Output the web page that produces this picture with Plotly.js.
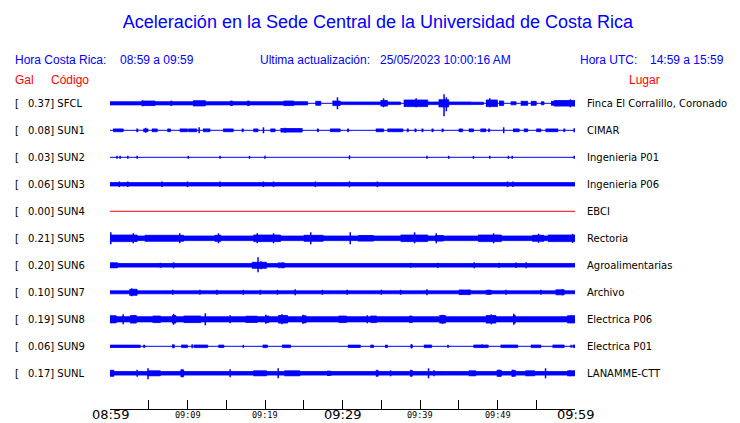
<!DOCTYPE html>
<html><head><meta charset="utf-8">
<script src="https://cdn.plot.ly/plotly-3.0.1.min.js"></script>
<style>html,body{margin:0;padding:0;background:#fff}#chart{width:740px;height:423px}</style>
</head><body><div id="chart"></div>
<script>
// ---- data ----
const codes = ['SFCL','SUN1','SUN2','SUN3','SUN4','SUN5','SUN6','SUN7','SUN8','SUN9','SUNL'];
const galValues = [0.37,0.08,0.03,0.06,0.00,0.21,0.20,0.10,0.19,0.06,0.17];
const places = ['Finca El Corralillo, Coronado','CIMAR','Ingenieria P01','Ingenieria P06','EBCI','Rectoria',
  'Agroalimentarias','Archivo','Electrica P06','Electrica P01','LANAMME-CTT'];
const tickMinutes = [0,5,10,15,20,25,30,35,40,45,50,55,60];
const tickLabels = ['08:59','','09:09','','09:19','','09:29','','09:39','','09:49','','09:59'];
const majorTickLabels = ['08:59','09:29','09:59'];

// envelope bands [startMin, endMin, halfAmplitude] and spikes [min, up, down]
const bandsSFCL = [[0,25.5,1.6],[4.1,5.8,2.3],[7.8,8.0,2.3],[10.7,12.3,2.6],[15.5,15.8,2.3],[17.7,18.0,2.3],
  [22.4,23.7,2.3],[26.5,27.2,2],[28.7,29.7,2.3],[29.7,34.9,1.3],[34.9,35.8,2.8],[35.8,37.5,1.3],[37.9,41.0,3.3],
  [41.0,46.6,1.3],[42.4,43.7,3.6],[46.6,48.2,1.1],[48.5,50.0,3.3],[50.2,50.8,2.3],[51.7,52.4,1.5],[53.0,53.9,2],
  [54.3,55.0,2],[55.6,56.0,1.5],[56.9,57.3,2],[57.3,60,2.8]];
const spikesSFCL = [[4.2,3,3],[29.35,6,6],[35.3,5,4],[39.5,5,4],[43.1,9,13],[43.4,6,8],[49.0,5,4],[59.4,4,4]];

const bandsSUN1 = [[0.4,1.7,1.4],[3.4,3.6,1.4],[4.3,4.9,1.4],[5.4,6.1,1.4],[7.4,7.8,1.4],[9.0,10.0,1.4],
  [10.1,11.2,1.4],[12.0,12.9,1.4],[14.6,15.9,1.4],[17.0,17.2,1.4],[18.5,19.1,1.4],[20.7,21.3,1.4],[22.0,24.8,1.8],
  [26.7,26.9,1.4],[28.4,29.7,1.4],[30.6,30.8,1.4],[34.3,35.3,1.4],[35.8,37.8,1.4],[38.3,38.5,1.4],[39.3,39.5,1.4],
  [40.2,40.4,1.4],[41.5,41.7,1.4],[42.8,43.0,1.4],[45.0,45.5,1.4],[46.3,46.9,1.4],[47.8,48.5,1.4],[48.8,49.0,1.4],
  [52.0,52.8,1.4],[53.4,53.9,1.4],[55.0,55.6,1.4],[56.2,57.8,1.4],[58.5,58.7,1.4]];
const spikesSUN1 = [[4.6,2.5,2.5],[11.5,3,3],[19.8,3,3],[22.6,2.5,2.5],[50.8,3,3],[59.9,2,2]];

const bandsSUN2 = [];
const spikesSUN2 = [[0.9,1.5,1.5],[1.3,1.5,1.5],[2.3,1.5,1.5],[3.5,1.5,1.5],[10.1,1.5,1.5],[14.2,1.5,1.5],
  [18.0,1.5,1.5],[20.0,1.5,1.5],[30.9,2,2],[40.9,1.5,1.5],[43.7,1.5,1.5],[46.9,1.5,1.5],[49.0,1.5,1.5],
  [51.4,1.5,1.5],[51.9,1.5,1.5],[59.9,1.5,1.5]];

const bandsSUN3 = [[0,60,1.7]];
const spikesSUN3 = [[1.2,2.8,2.8],[2.3,2.8,2.8],[6.7,2.8,2.8],[10.0,2.8,2.8],[14.2,2.8,2.8],[19.8,2.8,2.8],
  [21.1,2.8,2.8],[26.5,2.8,2.8],[30.9,3,3],[34.5,2.8,2.8],[51.3,2.8,2.8],[52.0,2.8,2.8]];

const bandsSUN4 = [];
const spikesSUN4 = [];

const bandsSUN5 = [[0,60,2.3],[0,3.5,3.3],[4.5,9.5,3.0],[13.5,14.3,3.0],[18.5,22.0,3.3],[25.0,27.5,3.0],
  [32.0,34.0,2.8],[37.5,41.0,3.3],[42,43,2.8],[47.5,50.5,3.3],[54.5,56.0,3.0],[56.5,60,3.3]];
const spikesSUN5 = [[0.1,6,6],[3.0,5,5],[9.0,5,5],[14.0,5,5],[19.0,5,5],[21.1,5,5],[25.9,6,6],[31.0,6,6],
  [39.3,6,5],[42.1,5,5],[49.5,5,5],[55.3,4.5,4.5],[59.7,4.5,4.5]];

const bandsSUN6 = [[0,60,1.8],[0,1.0,2.5],[18.3,20.2,3],[22,22.5,2.5]];
const spikesSUN6 = [[0.4,2.5,2.5],[6.5,2.5,2.5],[8.2,3,3],[19.1,8,7],[19.5,4,4],[21.8,3,3],[38.8,2.5,2.5],
  [42.3,2.5,2.5],[47.0,3,3],[50.2,2.5,2.5],[52.4,2.8,2.8],[53.7,3,3]];

const bandsSUN7 = [[0,60,1.5],[2.5,3.5,3],[45,46.5,2.3],[48.5,49.2,2],[57.5,58.6,2.5]];
const spikesSUN7 = [[2.8,4,4],[8.1,2.5,2.5],[11.6,2.5,2.5],[13.8,2.5,2.5],[17.2,2.5,2.5],[19.4,2.5,2.5],
  [21.6,2.5,2.5],[23.9,3,3],[27.4,2.5,2.5],[30.6,2.5,2.5],[35.0,2.5,2.5],[37.5,2.5,2.5],[40.9,3,3],
  [45.3,2.5,2.5],[46.3,2.5,2.5],[48.9,2.5,2.5],[51.1,2.5,2.5],[55.6,2.5,2.5],[58.4,3,3]];

const bandsSUN8 = [[0,60,2.6],[0,0.8,3.6],[2.6,3.4,3.8],[5.5,6.5,3.3],[8.0,8.5,3.8],[9.5,11.7,3.3],[17.5,19,3.1],
  [20.0,20.5,3.3],[21.7,22.9,3.8],[24.8,25.3,3.6],[29.5,30.5,3.3],[33.6,34.4,3.3],[38.6,39.0,3.3],[42.5,43.3,3.8],
  [48.5,49.8,3.8],[52.0,52.3,3.8],[59,60,3.6]];
const spikesSUN8 = [[1.7,5,5],[8.2,5.5,5.5],[12.3,6,6],[15.5,4,4],[20.1,4.5,4.5],[22.2,5,5],[24.9,4.5,4.5],
  [33.2,4,4],[42.9,4.5,4.5],[49.2,5,5],[52.1,5.5,5.5],[59.5,4,4]];

const bandsSUN9 = [[0,3.9,1.2],[4.3,4.5,1.2],[8.0,8.3,1.5],[9.2,10.0,1.3],[10.8,12.6,1.3],[14.0,14.7,1.2],
  [19.7,20.3,1.3],[22.2,23.3,1.3],[30.7,32.3,1.2],[33.6,34.0,1.2],[35.5,35.8,1.2],[38.8,39.0,1.5],[40.5,41.5,1.3],
  [43.5,43.7,1],[46.9,48.8,1.3],[50.4,52.6,1.3],[54.3,55.6,1.3],[57.1,58.6,1.3],[59.7,60,1.3]];
const spikesSUN9 = [[10.6,2,2],[17.2,1.5,1.5],[38.9,2,2],[48.0,1.8,1.8],[59.5,1.5,1.5]];

const bandsSUNL = [[0,60,1.8],[0,0.5,3],[4.8,6.5,2.5],[9.1,9.5,3.5],[18.5,20.2,2.5],[22.5,24.5,2.5],[28,28.5,2.2],
  [34.3,34.6,3],[38.7,39,3],[46.3,47.2,2.5],[49.9,50.5,3],[51.9,52.3,3],[53.6,54.8,2.5],[59,60,2.5]];
const spikesSUNL = [[0.3,3,3],[3.5,3.5,3.5],[4.9,5,6],[9.3,3.5,3.5],[15.5,4,4],[21.7,5,5],[36.2,3,3],[41.1,5,5],
  [41.8,3,3],[50.2,3.5,3.5],[51.9,3.5,3.5],[56.2,5,5],[59.4,3,3]];

const allBands = [bandsSFCL,bandsSUN1,bandsSUN2,bandsSUN3,bandsSUN4,bandsSUN5,bandsSUN6,bandsSUN7,bandsSUN8,bandsSUN9,bandsSUNL];
const allSpikes = [spikesSFCL,spikesSUN1,spikesSUN2,spikesSUN3,spikesSUN4,spikesSUN5,spikesSUN6,spikesSUN7,spikesSUN8,spikesSUN9,spikesSUNL];

// ---- layout constants (pixels) ----
const W = 740, H = 423;
const PL = 110, PR = 575, PT = 85, PB = 409;
const SPACING = 27;            // px between traces, 1 y-unit = 1 px
const FIRST = 103.3;           // px centre of first trace
const BLUE = '#0000ff', RED = '#ff0000';
const pw = PR - PL, ph = PB - PT;
const px2x = p => (p - PL) / pw;
const py2y = p => (PB - p) / ph;

const traces = [];
codes.forEach((code, i) => {
  const c = -SPACING * i;
  const col = (galValues[i] === 0) ? RED : BLUE;
  traces.push({x:[0,60], y:[c,c], mode:'lines', line:{color:col, width:1}, hoverinfo:'skip', showlegend:false});
  const bx = [], by = [];
  allBands[i].forEach(([t0,t1,a]) => { bx.push(t0,t1,t1,t0,null); by.push(c+a,c+a,c-a,c-a,null); });
  if (bx.length) traces.push({x:bx, y:by, mode:'lines', fill:'toself', fillcolor:col,
    line:{color:col, width:0.8}, hoverinfo:'skip', showlegend:false});
  const sx = [], sy = [];
  allSpikes[i].forEach(([t,u,d]) => { sx.push(t,t,null); sy.push(c+u,c-d,null); });
  if (sx.length) traces.push({x:sx, y:sy, mode:'lines', line:{color:col, width:1.5}, hoverinfo:'skip', showlegend:false});
});

const annotations = [];
const txt = (text, px, py, size, color, family, anchor) => annotations.push({
  text, xref:'paper', yref:'paper', x:px2x(px), y:py2y(py), xanchor:anchor||'left', yanchor:'middle',
  showarrow:false, borderpad:0, font:{size, color, family}});
const HF = 'Liberation Sans, Arial, sans-serif';
const LF = 'DejaVu Sans, sans-serif';
txt('Hora Costa Rica:', 14, 60, 12, BLUE, HF);
txt('08:59 a 09:59', 119, 60, 12, BLUE, HF);
txt('Ultima actualización:', 259, 60, 12, BLUE, HF);
txt('25/05/2023 10:00:16 AM', 379, 60, 12, BLUE, HF);
txt('Hora UTC:', 579, 60, 12, BLUE, HF);
txt('14:59 a 15:59', 649, 60, 12, BLUE, HF);
txt('Gal', 14, 80, 12, RED, HF);
txt('Código', 50, 80, 12, RED, HF);
txt('Lugar', 628, 80, 12, RED, HF);

codes.forEach((code, i) => {
  const py = FIRST + SPACING * i;
  txt('[', 14, py, 10, '#000', LF);
  txt(galValues[i].toFixed(2) + '] ' + code, 27, py, 10, '#000', LF);
  txt(places[i], 586, py, 10, '#000', LF);
});

tickMinutes.forEach((m, k) => {
  const lab = tickLabels[k];
  if (!lab) return;
  const big = majorTickLabels.includes(lab);
  annotations.push({text: lab, xref:'x', yref:'paper', x:m, y:py2y(big ? 414.5 : 414.5), xanchor:'center', yanchor:'middle',
    showarrow:false, borderpad:0,
    font: big ? {size:13, color:'#000', family:LF} : {size:8.5, color:'#000', family:'DejaVu Sans Mono, monospace'}});
});

const layout = {
  width: W, height: H,
  margin: {l:PL, r:W-PR, t:PT, b:H-PB, pad:0},
  paper_bgcolor:'#fff', plot_bgcolor:'#fff',
  title: {text:'Aceleración en la Sede Central de la Universidad de Costa Rica',
    font:{family:HF, size:18, color:BLUE}, x:378/W, xanchor:'center', xref:'container', y:1-22/H, yanchor:'middle', yref:'container'},
  xaxis: {range:[0,60], showgrid:false, zeroline:false, showline:true, linecolor:'#000', linewidth:1,
    ticks:'inside', ticklen:9, tickcolor:'#000', tickwidth:1, tickmode:'array', tickvals:tickMinutes,
    showticklabels:false, fixedrange:true},
  yaxis: {range:[-(PB-FIRST), FIRST-PT], visible:false, showgrid:false, zeroline:false, fixedrange:true},
  annotations,
  showlegend:false
};

Plotly.newPlot('chart', traces, layout, {displayModeBar:false, staticPlot:true});
</script></body></html>
